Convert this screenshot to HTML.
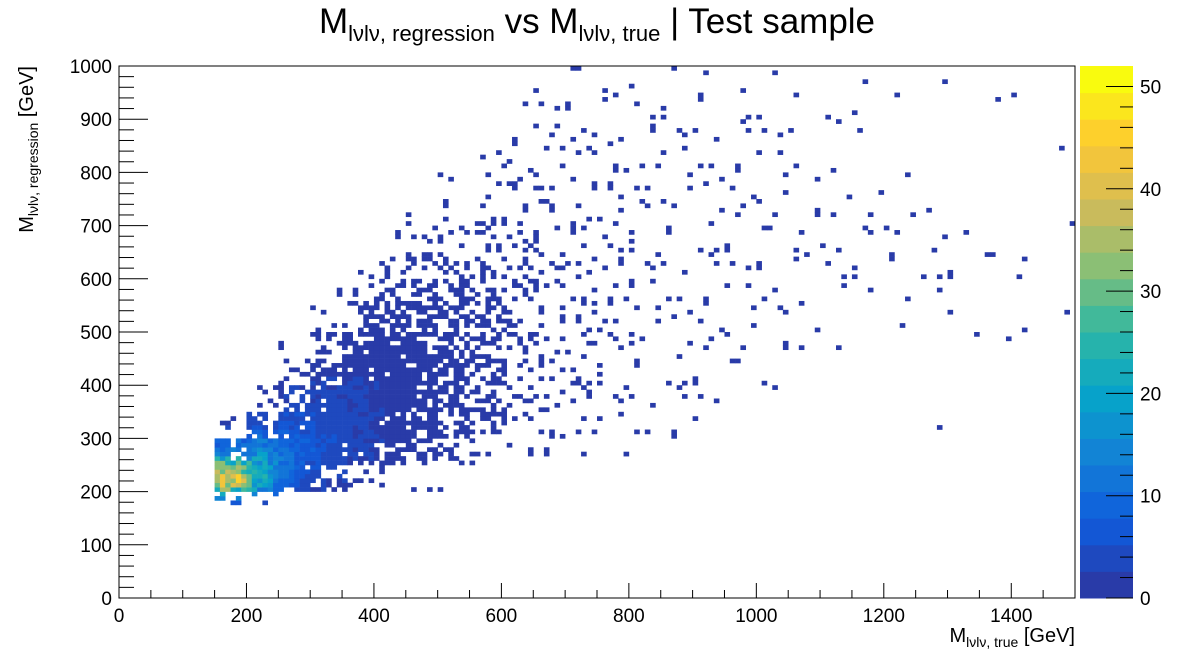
<!DOCTYPE html>
<html><head><meta charset="utf-8"><style>
body{margin:0;background:#fff;width:1194px;height:666px;overflow:hidden;font-family:"Liberation Sans",sans-serif}
</style></head><body>
<svg id="c" width="1194" height="666" xmlns="http://www.w3.org/2000/svg" font-family="Liberation Sans, sans-serif">
<text x="597" y="33" text-anchor="middle" font-size="35">M<tspan font-size="22" dy="8">lνlν, regression</tspan><tspan dy="-8"> vs M</tspan><tspan font-size="22" dy="8">lνlν, true</tspan><tspan dy="-8"> | Test sample</tspan></text>
<g id="cells"></g>
<rect x="119" y="66" width="956" height="532" fill="none" stroke="#000" stroke-width="1"/>
<g id="axes"></g>
<g id="cbar"></g>
<text x="1075" y="642" text-anchor="end" font-size="20">M<tspan font-size="14" dy="5">lνlν, true</tspan><tspan dy="-5"> [GeV]</tspan></text>
<text transform="translate(33,66) rotate(-90)" text-anchor="end" font-size="20">M<tspan font-size="14" dy="5">lνlν, regression</tspan><tspan dy="-5"> [GeV]</tspan></text>
</svg>
<script>
const xBlocks=[150,200,250,300,350,400,450,500,550,600,650,700,750,800,850,900,950,1000,1050,1100,1150,1200,1250,1300,1350,1400,1450];
const yBlocks=[150,200,250,300,350,400,450,500,550,600,650,700,750,800,850,900,950];
const occupancy=[
[.35,.15,.05,0,0,0,0,0,0,0,0,0,0,0,0,0,0,0,0,0,0,0,0,0,0,0,0],
[1,1,.9,.55,.25,.08,.03,.02,0,0,0,0,0,0,0,0,0,0,0,0,0,0,0,0,0,0,0],
[.8,1,1,1,.85,.65,.45,.25,.12,.06,.04,.02,.02,0,0,0,0,0,0,0,0,0,0,0,0,0,0],
[.1,.6,.9,1,1,.9,.7,.5,.35,.15,.1,.08,.05,.03,.03,.02,0,0,0,0,0,0,.02,0,0,0,0],
[0,.15,.5,.9,1,1,.8,.6,.4,.2,.15,.1,.08,.05,.04,.03,0,.02,0,0,0,0,0,0,0,0,0],
[0,0,.2,.6,.9,.95,.85,.65,.45,.25,.15,.12,.08,.05,.04,.03,.03,.02,0,0,0,0,0,0,0,0,0],
[0,0,.05,.3,.7,.85,.75,.6,.45,.25,.15,.12,.08,.06,.05,.04,.03,.03,.02,.02,0,0,0,.02,.02,0,0],
[0,0,0,.1,.35,.6,.6,.5,.4,.25,.15,.1,.08,.06,.05,.04,.04,.03,.02,0,0,.02,0,.02,0,.02,.02],
[0,0,0,.05,.15,.4,.5,.45,.35,.25,.15,.12,.1,.06,.05,.05,.04,.03,.02,.02,.02,.02,.02,0,0,0,0],
[0,0,0,0,.05,.15,.3,.3,.25,.2,.15,.12,.08,.06,.05,.03,.03,.03,.03,.03,.03,.03,.03,.03,.03,.03,0],
[0,0,0,0,0,.05,.1,.15,.2,.15,.12,.1,.08,.06,.04,.03,.03,.03,.03,.03,.03,.03,.03,.02,0,0,0],
[0,0,0,0,0,0,.03,.08,.12,.12,.1,.08,.08,.05,.03,.03,.03,.03,.03,.02,.02,.02,.02,0,0,0,.02],
[0,0,0,0,0,0,0,.05,.08,.1,.1,.08,.07,.05,.03,.03,.03,.03,.02,.02,.02,.02,0,0,0,0,0],
[0,0,0,0,0,0,0,0,.04,.06,.06,.07,.06,.05,.03,.03,.03,.03,.02,.02,0,0,0,0,0,0,.02],
[0,0,0,0,0,0,0,0,0,.04,.06,.06,.05,.04,.03,.03,.03,.03,.02,.02,.02,0,0,0,0,0,0],
[0,0,0,0,0,0,0,0,0,.02,.04,.05,.04,.03,.03,.03,.02,.02,.02,.02,.02,.02,0,0,.02,.02,0],
[0,0,0,0,0,0,0,0,0,0,.02,.03,.02,.02,.02,.02,.02,.02,0,0,.02,0,.02,0,0,0,0]
];
// mean count per block (first rows only; rest default to 1)
const counts=[
[5,3,1,1,1,1,1],
[46,22,7,3,2,1,1],
[12,16,9,5,3,2,2,1],
[2,5,6,5,3,2,2,1],
[1,2,3,3,3,2,2,1],
[1,1,2,2,2,2,1,1]
];
const zMax=52;
const cbTicks=[0,10,20,30,40,50];
const xTicks=[0,200,400,600,800,1000,1200,1400];
const yTicks=[0,100,200,300,400,500,600,700,800,900,1000];

const X0=119,X1=1075,Y0=598,Y1=66;
const sx=v=>X0+(v/1500)*(X1-X0);
const sy=v=>Y0-(v/1000)*(Y0-Y1);
const NS="http://www.w3.org/2000/svg";
const stops=[[0,[.16,.23,.66]],[.125,[.0592,.3599,.8684]],[.25,[.078,.5041,.8385]],[.375,[.0232,.6419,.7914]],[.5,[.1802,.7178,.6425]],[.625,[.5301,.7492,.4662]],[.75,[.8186,.7328,.3499]],[.875,[.9956,.7862,.1968]],[1,[.9764,.9832,.0539]]];
function cmap(t){t=Math.max(0,Math.min(1,t));for(let i=1;i<stops.length;i++){if(t<=stops[i][0]){const a=stops[i-1],b=stops[i],f=(t-a[0])/(b[0]-a[0]);const c=a[1].map((v,k)=>Math.round(255*(v+(b[1][k]-v)*f)));return `rgb(${c})`;}}return "rgb(249,251,14)";}
function mk(tag,attrs,parent){const e=document.createElementNS(NS,tag);for(const k in attrs)e.setAttribute(k,attrs[k]);parent.appendChild(e);return e;}
function cntAt(j,i){return (counts[j]&&counts[j][i]!==undefined)?counts[j][i]:1;}
function countAt(x,y){
  const fi=(x-175)/50,fj=(y-175)/50;
  const i0=Math.max(0,Math.min(xBlocks.length-1,Math.floor(fi))),j0=Math.max(0,Math.min(yBlocks.length-1,Math.floor(fj)));
  const i1=Math.min(xBlocks.length-1,i0+1),j1=Math.min(yBlocks.length-1,j0+1);
  const tx=Math.max(0,Math.min(1,fi-i0)),ty=Math.max(0,Math.min(1,fj-j0));
  return (cntAt(j0,i0)*(1-tx)+cntAt(j0,i1)*tx)*(1-ty)+(cntAt(j1,i0)*(1-tx)+cntAt(j1,i1)*tx)*ty;
}
const perm=[17,3,29,11,24,6,32,0,14,21,8,35,2,27,19,12,30,5,23,9,34,15,1,26,7,31,18,4,22,13,33,10,25,16,28,20];
const cg=document.getElementById('cells');
const B=50/6;
yBlocks.forEach((yb,j)=>{xBlocks.forEach((xb,i)=>{
  const o=occupancy[j][i];if(!o)return;
  for(let s=0;s<36;s++){
    const gx=s%6,gy=Math.floor(s/6);
    if(perm[(perm[s]+i*7+j*13)%36]/36>=o)continue;
    if(j===0&&gy<3)continue;
    const vx=xb+gx*B,vy=yb+gy*B;
    const base=countAt(vx+B/2,vy+B/2);
    const c=Math.max(1,base*(1+0.2*((perm[(s+i+j)%36]%3)-1)));
    const r=mk('rect',{x:sx(vx).toFixed(2),y:sy(vy+B).toFixed(2),width:(sx(B)-sx(0)+0.3).toFixed(2),height:(sy(0)-sy(B)+0.3).toFixed(2),fill:cmap(Math.floor(c/(zMax/20))/19)},cg);
    
    
  }
});});
const ax=document.getElementById('axes');
for(let v=0;v<=1500;v+=50){const major=v%200===0;const l=mk('line',{x1:sx(v),x2:sx(v),y1:Y0,y2:Y0-(major?15:8),stroke:'#000'},ax);}
xTicks.forEach(v=>{const t=mk('text',{x:sx(v),y:622,'text-anchor':'middle','font-size':19},ax);t.textContent=v;});
for(let v=0;v<=1000;v+=20){const major=v%100===0;const l=mk('line',{x1:X0,x2:X0+(major?29:15),y1:sy(v),y2:sy(v),stroke:'#000'},ax);}
yTicks.forEach(v=>{const t=mk('text',{x:112,y:sy(v)+7,'text-anchor':'end','font-size':19},ax);t.textContent=v;});
const cb=document.getElementById('cbar');
const CX=1080,CW=53;
for(let k=0;k<20;k++){const z1=(k+1)*zMax/20;const r=mk('rect',{x:CX,y:(Y0-(z1/zMax)*(Y0-Y1)).toFixed(2),width:CW,height:((Y0-Y1)/20+0.5).toFixed(2),fill:cmap(k/19)},cb);}
cbTicks.forEach(v=>{const y=Y0-(v/zMax)*(Y0-Y1);const l=mk('line',{x1:CX+CW-27,x2:CX+CW,y1:y,y2:y,stroke:'#000'},cb);const t=mk('text',{x:1140,y:y+7,'font-size':19},cb);t.textContent=v;});
for(let v=2;v<zMax;v+=2){if(v%10===0)continue;const y=Y0-(v/zMax)*(Y0-Y1);mk('line',{x1:CX+CW-13,x2:CX+CW,y1:y,y2:y,stroke:'#000'},cb);}
</script>
</body></html>
